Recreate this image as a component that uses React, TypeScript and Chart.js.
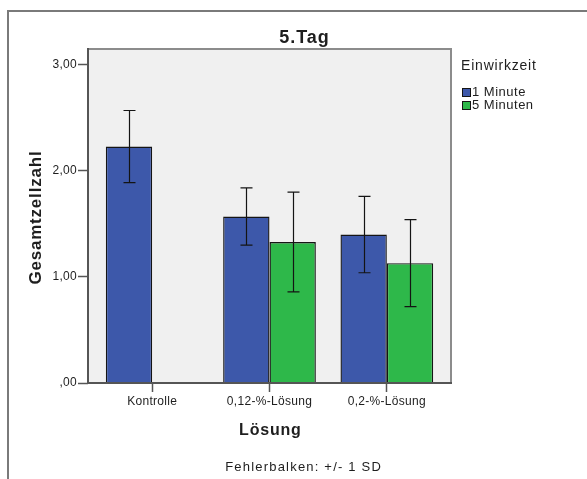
import React, { useEffect, useRef } from 'react';
import { Chart, registerables } from 'chart.js';

Chart.register(...registerables);

// Gesamtzellzahl am 5. Tag, Mittelwert und Standardabweichung je Lösung und Einwirkzeit
const categories = ['Kontrolle', '0,12-%-Lösung', '0,2-%-Lösung'];
const seriesNames = ['1 Minute', '5 Minuten'];
const oneMinuteMean = [2.23, 1.57, 1.4];
const oneMinuteSD = [0.34, 0.27, 0.36];
const fiveMinutesMean = [null, 1.33, 1.13];
const fiveMinutesSD = [null, 0.47, 0.41];
const yTickLabels = [',00', '1,00', '2,00', '3,00'];

const chartTitle = '5.Tag';
const legendTitle = 'Einwirkzeit';
const xTitle = 'Lösung';
const yTitle = 'Gesamtzellzahl';
const footnote = 'Fehlerbalken: +/- 1 SD';

const W = 587;
const H = 479;
const PLOT_LEFT = 88;
const PLOT_TOP = 49;
const PLOT_RIGHT = 451;
const PLOT_BOTTOM = 383;
const CAT_INSET = 5.5;

const FONT = '"Liberation Sans", Arial, Helvetica, sans-serif';
const BLUE = '#3d58aa';
const GREEN = '#2eb84a';
const EDGE = '#151515';
const PLOT_BG = '#f0f0f0';
const AXIS = '#555555';
const FRAME_LIGHT = '#8c8c8c';
const OUTER = '#7a7a7a';
const TEXT = '#1e1e1e';

const sdBySeries = [oneMinuteSD, fiveMinutesSD];

// Categories sit slightly inside the plot frame
const insetPlugin = {
  id: 'categoryInset',
  afterLayout(chart: any) {
    const x = chart.scales.x;
    x.left += CAT_INSET;
    x.right -= CAT_INSET;
    x.width = x.right - x.left;
    x.configure();
  },
};

function spacedText(ctx: any, text: string, x: number, y: number, font: string, spacing: number, align: CanvasTextAlign) {
  ctx.save();
  ctx.font = font;
  ctx.letterSpacing = spacing + 'px';
  ctx.fillStyle = TEXT;
  ctx.textBaseline = 'alphabetic';
  ctx.textAlign = align;
  ctx.fillText(text, align === 'center' ? x + spacing / 2 : x, y);
  ctx.restore();
}

const decorPlugin = {
  id: 'decor',
  beforeDraw(chart: any) {
    const { ctx, chartArea: a } = chart;
    ctx.save();
    ctx.fillStyle = '#ffffff';
    ctx.fillRect(0, 0, chart.width, chart.height);
    ctx.fillStyle = PLOT_BG;
    ctx.fillRect(a.left, a.top, a.right - a.left, a.bottom - a.top);
    ctx.restore();
    ctx.letterSpacing = '0.3px';
  },
  afterDatasetsDraw(chart: any) {
    const { ctx } = chart;
    const y = chart.scales.y;
    ctx.save();
    ctx.strokeStyle = '#141414';
    ctx.lineWidth = 1.2;
    chart.data.datasets.forEach((ds: any, i: number) => {
      const meta = chart.getDatasetMeta(i);
      meta.data.forEach((bar: any, j: number) => {
        const m = ds.data[j];
        const sd = sdBySeries[i][j];
        if (m == null || sd == null || !isFinite(bar.x)) return;
        const top = y.getPixelForValue(m + sd);
        const bot = y.getPixelForValue(m - sd);
        const cx = Math.round(bar.x) + 0.5;
        ctx.beginPath();
        ctx.moveTo(cx, top);
        ctx.lineTo(cx, bot);
        ctx.moveTo(cx - 6, top);
        ctx.lineTo(cx + 6, top);
        ctx.moveTo(cx - 6, bot);
        ctx.lineTo(cx + 6, bot);
        ctx.stroke();
      });
    });
    ctx.restore();
  },
  afterDraw(chart: any) {
    const { ctx, chartArea: a } = chart;
    ctx.save();
    // plot frame
    ctx.lineWidth = 2;
    ctx.strokeStyle = FRAME_LIGHT;
    ctx.beginPath();
    ctx.moveTo(a.left, a.top);
    ctx.lineTo(a.right, a.top);
    ctx.lineTo(a.right, a.bottom);
    ctx.stroke();
    ctx.strokeStyle = AXIS;
    ctx.beginPath();
    ctx.moveTo(a.left, a.top - 1);
    ctx.lineTo(a.left, a.bottom);
    ctx.lineTo(a.right + 1, a.bottom);
    ctx.stroke();
    // outer frame
    ctx.strokeStyle = OUTER;
    ctx.beginPath();
    ctx.moveTo(8, H);
    ctx.lineTo(8, 11);
    ctx.lineTo(W, 11);
    ctx.stroke();

    // legend swatches
    const swatches = [BLUE, GREEN];
    swatches.forEach((c, i) => {
      const sy = 88 + i * 13;
      ctx.fillStyle = c;
      ctx.fillRect(462, sy, 9, 9);
      ctx.strokeStyle = EDGE;
      ctx.lineWidth = 1;
      ctx.strokeRect(462.5, sy + 0.5, 8, 8);
    });
    ctx.restore();

    spacedText(ctx, chartTitle, 304, 43, `bold 18px ${FONT}`, 1, 'center');
    spacedText(ctx, legendTitle, 461, 70, `14px ${FONT}`, 0.8, 'left');
    seriesNames.forEach((name, i) => {
      spacedText(ctx, name, 472, 96 + i * 13, `13px ${FONT}`, 0.5, 'left');
    });
    spacedText(ctx, xTitle, 270, 434.5, `bold 16px ${FONT}`, 0.8, 'center');
    spacedText(ctx, footnote, 303, 471, `13px ${FONT}`, 1.2, 'center');

    ctx.save();
    ctx.translate(41, 218);
    ctx.rotate(-Math.PI / 2);
    spacedText(ctx, yTitle, 0, 0, `bold 17px ${FONT}`, 0.8, 'center');
    ctx.restore();
  },
};

export default function App() {
  const canvasRef = useRef<HTMLCanvasElement>(null);

  useEffect(() => {
    document.body.style.margin = '0';
    const canvas = canvasRef.current;
    if (!canvas) return;
    const chart = new Chart(canvas, {
      type: 'bar',
      data: {
        labels: categories,
        datasets: [
          {
            label: seriesNames[0],
            data: oneMinuteMean,
            backgroundColor: BLUE,
            borderColor: EDGE,
            borderWidth: 1.4,
          },
          {
            label: seriesNames[1],
            data: fiveMinutesMean,
            backgroundColor: GREEN,
            borderColor: EDGE,
            borderWidth: 1.4,
          },
        ],
      },
      options: {
        animation: false,
        responsive: false,
        devicePixelRatio: 1,
        layout: { padding: { left: 0, top: PLOT_TOP, right: W - PLOT_RIGHT, bottom: 0 } },
        datasets: { bar: { categoryPercentage: 0.79, barPercentage: 1 } },
        plugins: {
          legend: { display: false },
          title: { display: false },
          tooltip: { enabled: false },
        },
        scales: {
          x: {
            offset: true,
            grid: {
              offset: false,
              drawOnChartArea: false,
              drawTicks: true,
              tickLength: 9,
              tickColor: AXIS,
              tickWidth: 1.5,
            },
            border: { display: false },
            ticks: {
              color: TEXT,
              font: { family: FONT, size: 12 },
              padding: 2,
              maxRotation: 0,
              autoSkip: false,
            },
            afterFit: (s: any) => {
              s.height = H - PLOT_BOTTOM;
            },
          },
          y: {
            min: 0,
            max: 3.15,
            bounds: 'data',
            grid: {
              drawOnChartArea: false,
              drawTicks: true,
              tickLength: 10,
              tickColor: AXIS,
              tickWidth: 1.5,
            },
            border: { display: false },
            ticks: {
              stepSize: 1,
              includeBounds: false,
              padding: 1,
              color: TEXT,
              font: { family: FONT, size: 12 },
              callback: (_v: any, i: number) => yTickLabels[i],
            },
            afterFit: (s: any) => {
              s.width = PLOT_LEFT;
            },
          },
        },
      } as any,
      plugins: [insetPlugin, decorPlugin],
    });
    return () => chart.destroy();
  }, []);

  return (
    <div style={{ width: W, height: H }}>
      <canvas ref={canvasRef} width={W} height={H} style={{ display: 'block' }} />
    </div>
  );
}
